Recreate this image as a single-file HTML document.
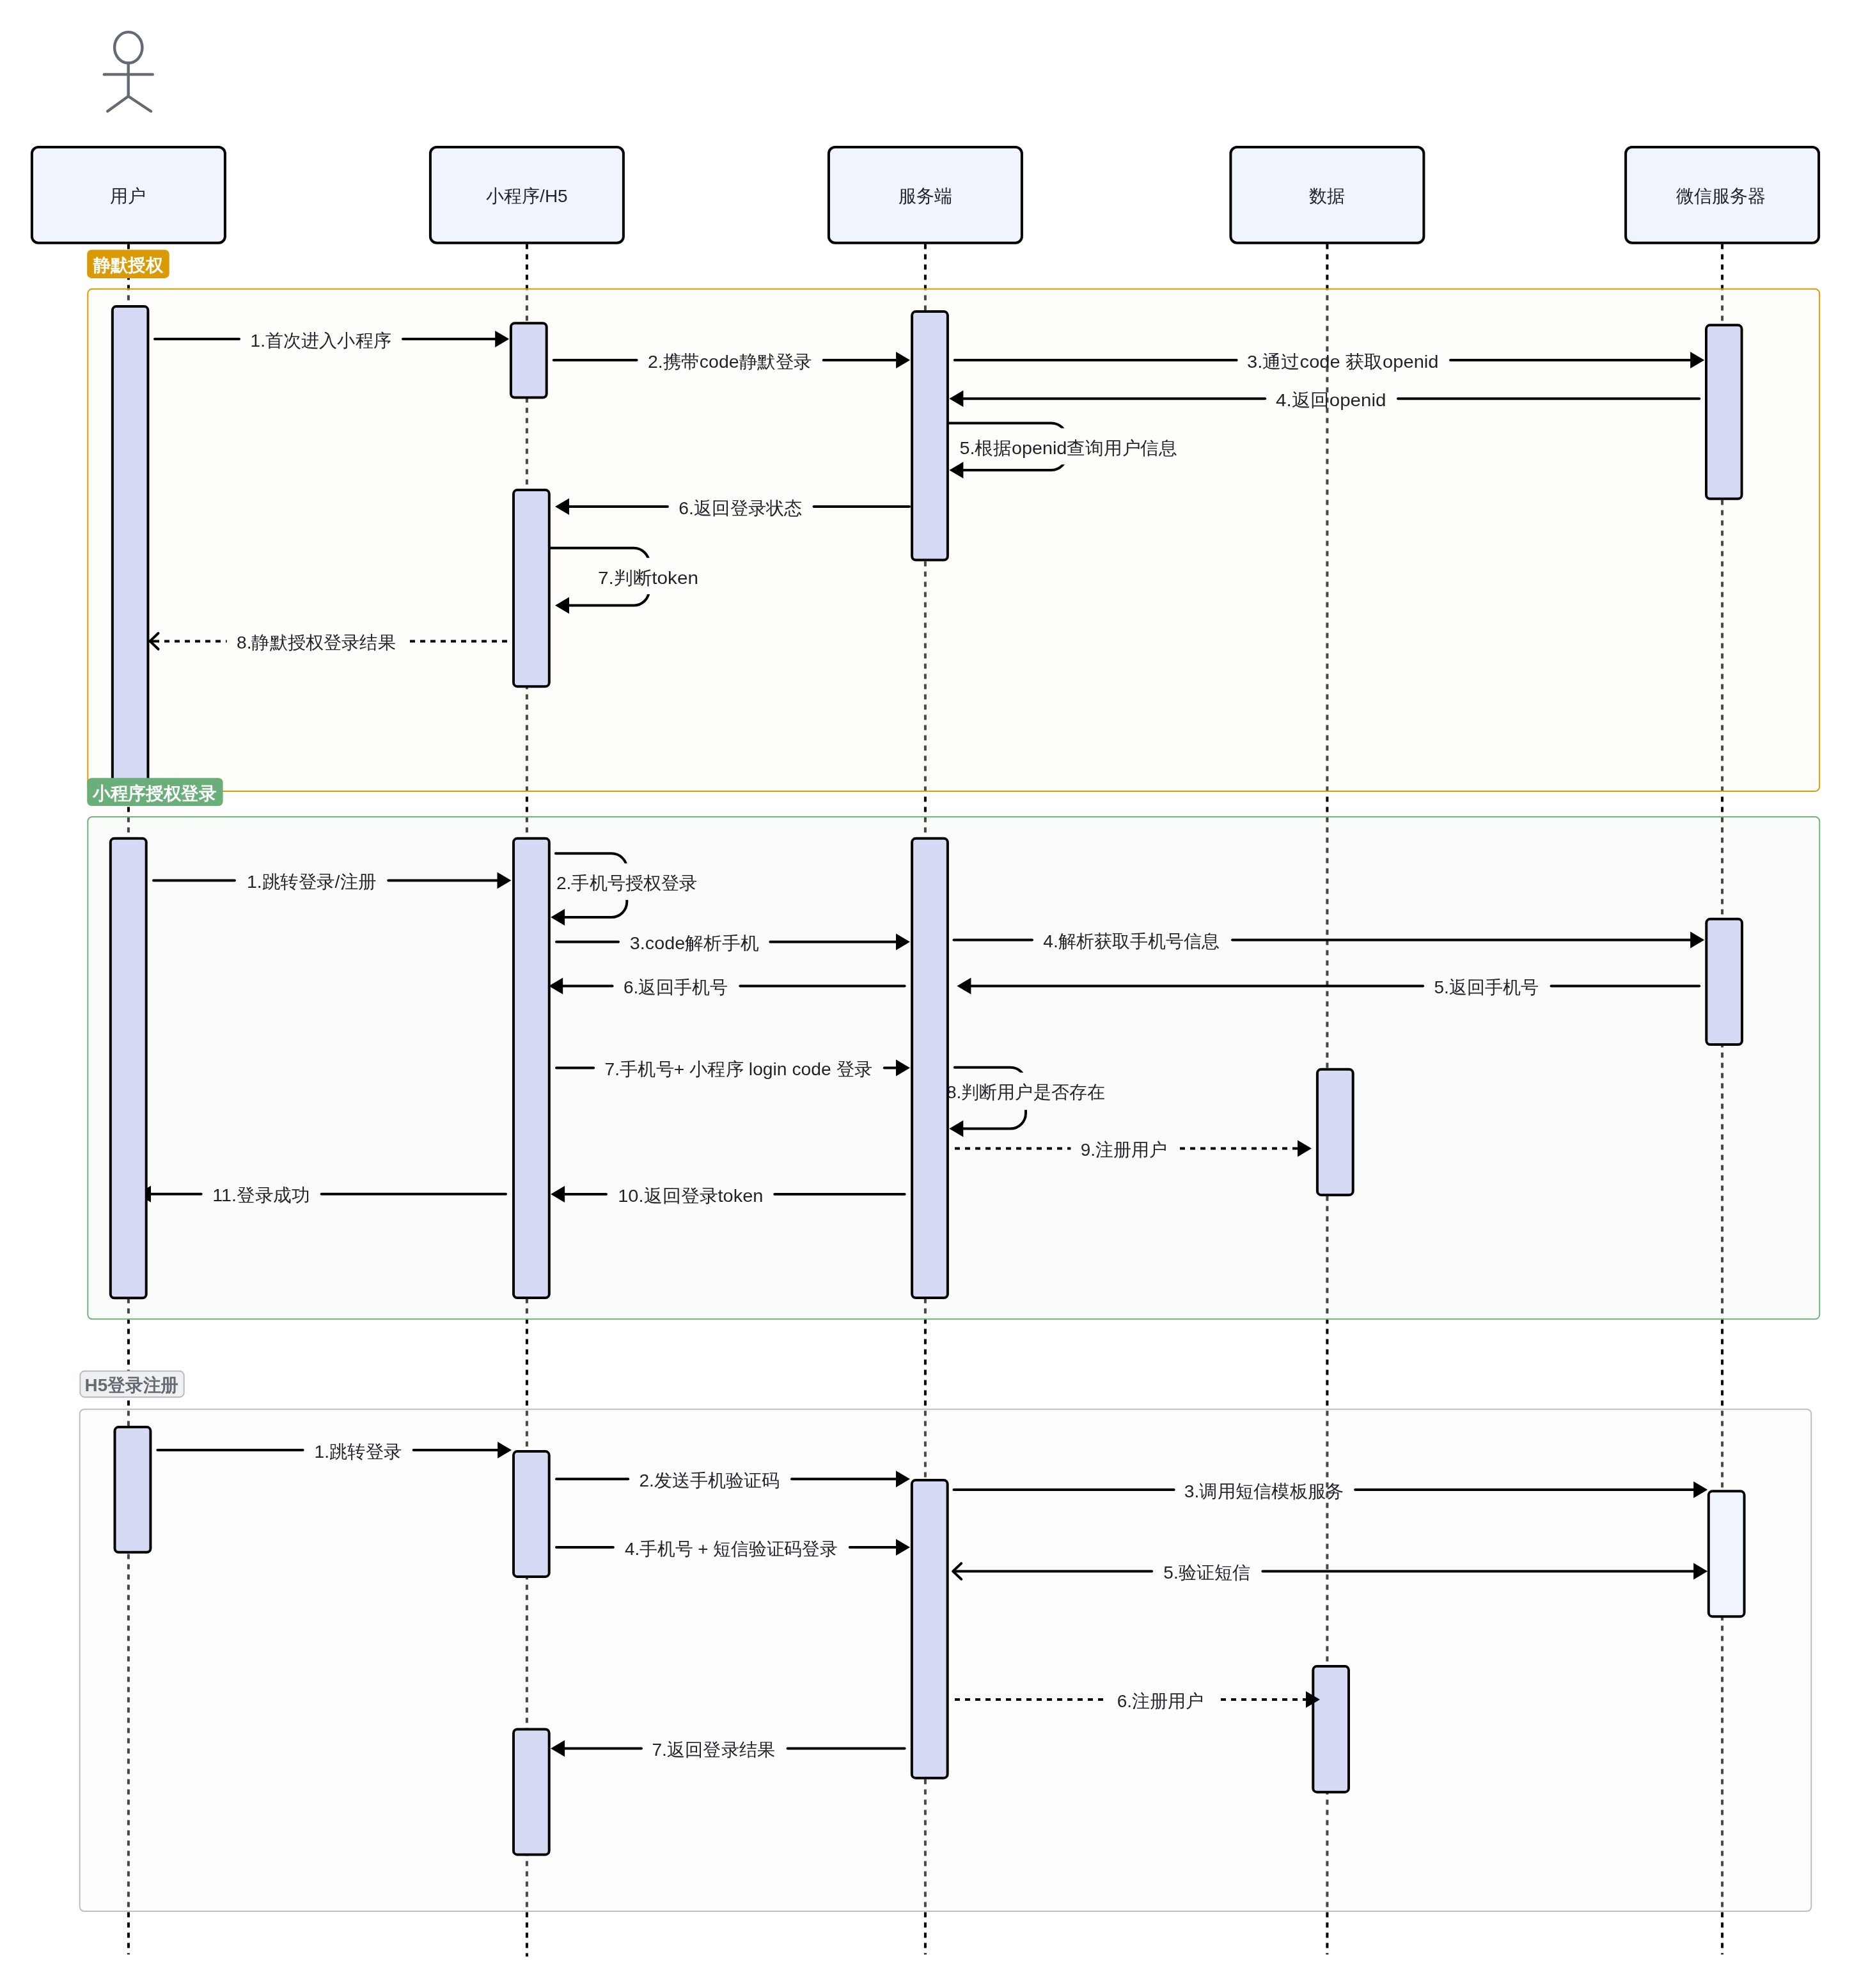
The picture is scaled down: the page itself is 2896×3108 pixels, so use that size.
<!DOCTYPE html>
<html><head><meta charset="utf-8"><title>sequence</title><style>html,body{margin:0;padding:0;background:#fff;}body{width:2896px;height:3108px;overflow:hidden;font-family:"Liberation Sans", sans-serif;}</style>
</head><body>
<svg width="2896" height="3108" viewBox="0 0 2896 3108" style="display:block;will-change:transform;font-family:'Liberation Sans', sans-serif">
<rect width="2896" height="3108" fill="#fff"/>
<line x1="200.9" y1="381.6" x2="200.9" y2="3055.4" stroke="#000" stroke-width="4" stroke-dasharray="7.8 8.2"/>
<line x1="823.9" y1="381.6" x2="823.9" y2="3058.8" stroke="#000" stroke-width="4" stroke-dasharray="7.8 8.2"/>
<line x1="1446.9" y1="381.6" x2="1446.9" y2="3055.4" stroke="#000" stroke-width="4" stroke-dasharray="7.8 8.2"/>
<line x1="2075.4" y1="381.6" x2="2075.4" y2="3055.4" stroke="#000" stroke-width="4" stroke-dasharray="7.8 8.2"/>
<line x1="2693.1" y1="381.6" x2="2693.1" y2="3055.4" stroke="#000" stroke-width="4" stroke-dasharray="7.8 8.2"/>
<g fill="none" stroke="#646a73" stroke-width="4.4" stroke-linecap="round" stroke-linejoin="round">
<ellipse cx="200.75" cy="74.3" rx="21.7" ry="24.2"/>
<line x1="200.7" y1="98.5" x2="200.7" y2="150.5"/>
<line x1="162.8" y1="116.4" x2="238.7" y2="116.4"/>
<polyline points="168.1,174 200.7,150.5 236,174"/>
</g>
<rect x="49.9" y="230.1" width="302" height="149.6" rx="10" ry="10" fill="#eff4fd" stroke="#000" stroke-width="4"/>
<text x="200.4" y="316" text-anchor="middle" font-size="28" fill="#1f2329">用户</text>
<rect x="672.9" y="230.1" width="302" height="149.6" rx="10" ry="10" fill="#eff4fd" stroke="#000" stroke-width="4"/>
<text x="823.9" y="316" text-anchor="middle" font-size="28" fill="#1f2329">小程序/H5</text>
<rect x="1295.9" y="230.1" width="302" height="149.6" rx="10" ry="10" fill="#eff4fd" stroke="#000" stroke-width="4"/>
<text x="1446.9" y="316" text-anchor="middle" font-size="28" fill="#1f2329">服务端</text>
<rect x="1924.4" y="230.1" width="302" height="149.6" rx="10" ry="10" fill="#eff4fd" stroke="#000" stroke-width="4"/>
<text x="2075.4" y="316" text-anchor="middle" font-size="28" fill="#1f2329">数据</text>
<rect x="2542.1" y="230.1" width="302" height="149.6" rx="10" ry="10" fill="#eff4fd" stroke="#000" stroke-width="4"/>
<text x="2690.6" y="316" text-anchor="middle" font-size="28" fill="#1f2329">微信服务器</text>
<rect x="137.3" y="451.8" width="2707.9" height="785.1" rx="7" ry="7" fill="rgb(255,248,236)" fill-opacity="0.29" stroke="#dc9b04" stroke-width="2"/>
<rect x="137.3" y="1277" width="2708" height="785.3" rx="7" ry="7" fill="rgb(236,244,233)" fill-opacity="0.29" stroke="#72b37f" stroke-width="2"/>
<rect x="124.7" y="2203.2" width="2707.6" height="784.8" rx="7" ry="7" fill="rgb(248,248,248)" fill-opacity="0.29" stroke="#bbbfc4" stroke-width="2"/>
<line x1="242" y1="530.1" x2="374" y2="530.1" stroke="#000" stroke-width="4" stroke-linecap="round"/>
<line x1="630" y1="530.1" x2="774.2" y2="530.1" stroke="#000" stroke-width="4" stroke-linecap="round"/>
<polygon points="796.2,530.1 774.2,517.1 774.2,543.1" fill="#000"/>
<text x="391.5" y="541.7" font-size="28" fill="#1f2329" textLength="220.3" lengthAdjust="spacingAndGlyphs">1.首次进入小程序</text>
<line x1="865.7" y1="562.9" x2="995.6" y2="562.9" stroke="#000" stroke-width="4" stroke-linecap="round"/>
<line x1="1287.7" y1="562.9" x2="1401.1" y2="562.9" stroke="#000" stroke-width="4" stroke-linecap="round"/>
<polygon points="1423.1,562.9 1401.1,549.9 1401.1,575.9" fill="#000"/>
<text x="1012.9" y="574.5" font-size="28" fill="#1f2329" textLength="257.0" lengthAdjust="spacingAndGlyphs">2.携带code静默登录</text>
<line x1="1492.8" y1="562.9" x2="1933.7" y2="562.9" stroke="#000" stroke-width="4" stroke-linecap="round"/>
<line x1="2268" y1="562.9" x2="2643.2" y2="562.9" stroke="#000" stroke-width="4" stroke-linecap="round"/>
<polygon points="2665.2,562.9 2643.2,549.9 2643.2,575.9" fill="#000"/>
<text x="1950.1" y="574.5" font-size="28" fill="#1f2329" textLength="299.4" lengthAdjust="spacingAndGlyphs">3.通过code 获取openid</text>
<line x1="2186" y1="623.2" x2="2657.2" y2="623.2" stroke="#000" stroke-width="4" stroke-linecap="round"/>
<line x1="1506.4" y1="623.2" x2="1978.2" y2="623.2" stroke="#000" stroke-width="4" stroke-linecap="round"/>
<polygon points="1484.4,623.2 1506.4,610.2 1506.4,636.2" fill="#000"/>
<text x="1995.0" y="634.8" font-size="28" fill="#1f2329" textLength="172.5" lengthAdjust="spacingAndGlyphs">4.返回openid</text>
<path d="M1484.4,661.4 H1644 A24,24 0 0 1 1668,685.4 V710.9 A24,24 0 0 1 1644,734.9 H1506.4" fill="none" stroke="#000" stroke-width="4" stroke-linecap="round" mask="url(#m0)"/>
<polygon points="1484.4,734.9 1506.4,721.9 1506.4,747.9" fill="#000"/>
<text x="1500.5" y="709.9" font-size="28" fill="#1f2329" textLength="340.4" lengthAdjust="spacingAndGlyphs">5.根据openid查询用户信息</text>
<line x1="1272.6" y1="791.9" x2="1422" y2="791.9" stroke="#000" stroke-width="4" stroke-linecap="round"/>
<line x1="890" y1="791.9" x2="1044" y2="791.9" stroke="#000" stroke-width="4" stroke-linecap="round"/>
<polygon points="868,791.9 890,778.9 890,804.9" fill="#000"/>
<text x="1061.3" y="803.5" font-size="28" fill="#1f2329" textLength="193.5" lengthAdjust="spacingAndGlyphs">6.返回登录状态</text>
<path d="M859.5,856.7 H991 A24,24 0 0 1 1015,880.7 V922.5 A24,24 0 0 1 991,946.5 H890" fill="none" stroke="#000" stroke-width="4" stroke-linecap="round" mask="url(#m1)"/>
<polygon points="868,946.5 890,933.5 890,959.5" fill="#000"/>
<text x="935.0" y="912.9" font-size="28" fill="#1f2329" textLength="157.0" lengthAdjust="spacingAndGlyphs">7.判断token</text>
<line x1="793" y1="1002.4" x2="641" y2="1002.4" stroke="#000" stroke-width="4" stroke-dasharray="8 8" stroke-dashoffset="0.00"/>
<line x1="354.6" y1="1002.4" x2="247.0" y2="1002.4" stroke="#000" stroke-width="4" stroke-dasharray="8 8" stroke-dashoffset="438.40"/>
<line x1="233.8" y1="1002.4" x2="247.0" y2="1002.4" stroke="#000" stroke-width="4" stroke-linecap="round"/>
<polyline points="247.5,990.0 234.5,1002.4 247.5,1014.8" fill="none" stroke="#000" stroke-width="4" stroke-linecap="round" stroke-linejoin="round"/>
<text x="370.0" y="1014.0" font-size="28" fill="#1f2329" textLength="248.8" lengthAdjust="spacingAndGlyphs">8.静默授权登录结果</text>
<line x1="240" y1="1376.6" x2="366.9" y2="1376.6" stroke="#000" stroke-width="4" stroke-linecap="round"/>
<line x1="607.2" y1="1376.6" x2="777.5" y2="1376.6" stroke="#000" stroke-width="4" stroke-linecap="round"/>
<polygon points="799.5,1376.6 777.5,1363.6 777.5,1389.6" fill="#000"/>
<text x="385.9" y="1388.2" font-size="28" fill="#1f2329" textLength="202.6" lengthAdjust="spacingAndGlyphs">1.跳转登录/注册</text>
<path d="M868.9,1334.3 H956.3 A24,24 0 0 1 980.3,1358.3 V1410 A24,24 0 0 1 956.3,1434 H883.1" fill="none" stroke="#000" stroke-width="4" stroke-linecap="round" mask="url(#m2)"/>
<polygon points="861.1,1434 883.1,1421 883.1,1447" fill="#000"/>
<text x="869.9" y="1389.6" font-size="28" fill="#1f2329" textLength="220.8" lengthAdjust="spacingAndGlyphs">2.手机号授权登录</text>
<line x1="870" y1="1472.5" x2="967" y2="1472.5" stroke="#000" stroke-width="4" stroke-linecap="round"/>
<line x1="1204.4" y1="1472.5" x2="1401" y2="1472.5" stroke="#000" stroke-width="4" stroke-linecap="round"/>
<polygon points="1423,1472.5 1401,1459.5 1401,1485.5" fill="#000"/>
<text x="984.8" y="1484.1" font-size="28" fill="#1f2329" textLength="201.7" lengthAdjust="spacingAndGlyphs">3.code解析手机</text>
<line x1="1491.5" y1="1469.6" x2="1614" y2="1469.6" stroke="#000" stroke-width="4" stroke-linecap="round"/>
<line x1="1927" y1="1469.6" x2="2643.2" y2="1469.6" stroke="#000" stroke-width="4" stroke-linecap="round"/>
<polygon points="2665.2,1469.6 2643.2,1456.6 2643.2,1482.6" fill="#000"/>
<text x="1631.3" y="1481.2" font-size="28" fill="#1f2329" textLength="275.7" lengthAdjust="spacingAndGlyphs">4.解析获取手机号信息</text>
<line x1="2425.6" y1="1541.4" x2="2657.2" y2="1541.4" stroke="#000" stroke-width="4" stroke-linecap="round"/>
<line x1="1518.4" y1="1541.4" x2="2225.1" y2="1541.4" stroke="#000" stroke-width="4" stroke-linecap="round"/>
<polygon points="1496.4,1541.4 1518.4,1528.4 1518.4,1554.4" fill="#000"/>
<text x="2242.4" y="1553.0" font-size="28" fill="#1f2329" textLength="163.9" lengthAdjust="spacingAndGlyphs">5.返回手机号</text>
<line x1="1157.3" y1="1541.6" x2="1414.6" y2="1541.6" stroke="#000" stroke-width="4" stroke-linecap="round"/>
<line x1="880.2" y1="1541.6" x2="957.6" y2="1541.6" stroke="#000" stroke-width="4" stroke-linecap="round"/>
<polygon points="858.2,1541.6 880.2,1528.6 880.2,1554.6" fill="#000"/>
<text x="974.9" y="1553.2" font-size="28" fill="#1f2329" textLength="163.3" lengthAdjust="spacingAndGlyphs">6.返回手机号</text>
<line x1="870" y1="1669.5" x2="928.2" y2="1669.5" stroke="#000" stroke-width="4" stroke-linecap="round"/>
<line x1="1382.8" y1="1669.5" x2="1401" y2="1669.5" stroke="#000" stroke-width="4" stroke-linecap="round"/>
<polygon points="1423,1669.5 1401,1656.5 1401,1682.5" fill="#000"/>
<text x="945.5" y="1681.1" font-size="28" fill="#1f2329" textLength="418.6" lengthAdjust="spacingAndGlyphs">7.手机号+ 小程序 login code 登录</text>
<path d="M1492.8,1668.8 H1580 A24,24 0 0 1 1604,1692.8 V1740.5 A24,24 0 0 1 1580,1764.5 H1506.3" fill="none" stroke="#000" stroke-width="4" stroke-linecap="round" mask="url(#m3)"/>
<polygon points="1484.3,1764.5 1506.3,1751.5 1506.3,1777.5" fill="#000"/>
<text x="1480.0" y="1716.9" font-size="28" fill="#1f2329" textLength="247.7" lengthAdjust="spacingAndGlyphs">8.判断用户是否存在</text>
<line x1="1493" y1="1795.6" x2="1674.4" y2="1795.6" stroke="#000" stroke-width="4" stroke-dasharray="8 8" stroke-dashoffset="0.00"/>
<line x1="1845" y1="1795.6" x2="2029" y2="1795.6" stroke="#000" stroke-width="4" stroke-dasharray="8 8" stroke-dashoffset="352.00"/>
<polygon points="2051,1795.6 2029,1782.6 2029,1808.6" fill="#000"/>
<text x="1689.7" y="1807.2" font-size="28" fill="#1f2329" textLength="135.2" lengthAdjust="spacingAndGlyphs">9.注册用户</text>
<line x1="1211.3" y1="1866.9" x2="1414.6" y2="1866.9" stroke="#000" stroke-width="4" stroke-linecap="round"/>
<line x1="883.1" y1="1866.9" x2="948" y2="1866.9" stroke="#000" stroke-width="4" stroke-linecap="round"/>
<polygon points="861.1,1866.9 883.1,1853.9 883.1,1879.9" fill="#000"/>
<text x="966.2" y="1878.5" font-size="28" fill="#1f2329" textLength="227.3" lengthAdjust="spacingAndGlyphs">10.返回登录token</text>
<line x1="502.6" y1="1866.8" x2="791" y2="1866.8" stroke="#000" stroke-width="4" stroke-linecap="round"/>
<line x1="236" y1="1866.8" x2="314.6" y2="1866.8" stroke="#000" stroke-width="4" stroke-linecap="round"/>
<polygon points="214,1866.8 236,1853.8 236,1879.8" fill="#000"/>
<text x="332.3" y="1878.4" font-size="28" fill="#1f2329" textLength="152.5" lengthAdjust="spacingAndGlyphs">11.登录成功</text>
<line x1="246.3" y1="2267.1" x2="473.6" y2="2267.1" stroke="#000" stroke-width="4" stroke-linecap="round"/>
<line x1="646.6" y1="2267.1" x2="778.1" y2="2267.1" stroke="#000" stroke-width="4" stroke-linecap="round"/>
<polygon points="800.1,2267.1 778.1,2254.1 778.1,2280.1" fill="#000"/>
<text x="491.5" y="2278.7" font-size="28" fill="#1f2329" textLength="136.7" lengthAdjust="spacingAndGlyphs">1.跳转登录</text>
<line x1="870" y1="2312.2" x2="982.2" y2="2312.2" stroke="#000" stroke-width="4" stroke-linecap="round"/>
<line x1="1238" y1="2312.2" x2="1401" y2="2312.2" stroke="#000" stroke-width="4" stroke-linecap="round"/>
<polygon points="1423,2312.2 1401,2299.2 1401,2325.2" fill="#000"/>
<text x="999.5" y="2323.8" font-size="28" fill="#1f2329" textLength="219.9" lengthAdjust="spacingAndGlyphs">2.发送手机验证码</text>
<line x1="1491.5" y1="2328.9" x2="1835.7" y2="2328.9" stroke="#000" stroke-width="4" stroke-linecap="round"/>
<line x1="2119.1" y1="2328.9" x2="2648.2" y2="2328.9" stroke="#000" stroke-width="4" stroke-linecap="round"/>
<polygon points="2670.2,2328.9 2648.2,2315.9 2648.2,2341.9" fill="#000"/>
<text x="1851.7" y="2340.5" font-size="28" fill="#1f2329" textLength="249.7" lengthAdjust="spacingAndGlyphs">3.调用短信模板服务</text>
<line x1="870" y1="2419" x2="958.9" y2="2419" stroke="#000" stroke-width="4" stroke-linecap="round"/>
<line x1="1328.8" y1="2419" x2="1401" y2="2419" stroke="#000" stroke-width="4" stroke-linecap="round"/>
<polygon points="1423,2419 1401,2406 1401,2432" fill="#000"/>
<text x="977.0" y="2430.6" font-size="28" fill="#1f2329" textLength="332.7" lengthAdjust="spacingAndGlyphs">4.手机号 + 短信验证码登录</text>
<polyline points="1503.2,2444.1 1490.2,2456.5 1503.2,2468.9" fill="none" stroke="#000" stroke-width="4" stroke-linecap="round" stroke-linejoin="round"/>
<line x1="1491.5" y1="2456.5" x2="1801.1" y2="2456.5" stroke="#000" stroke-width="4" stroke-linecap="round"/>
<line x1="1974.4" y1="2456.5" x2="2648.2" y2="2456.5" stroke="#000" stroke-width="4" stroke-linecap="round"/>
<polygon points="2670.2,2456.5 2648.2,2443.5 2648.2,2469.5" fill="#000"/>
<text x="1819.3" y="2468.1" font-size="28" fill="#1f2329" textLength="136.1" lengthAdjust="spacingAndGlyphs">5.验证短信</text>
<line x1="1231.6" y1="2733.4" x2="1414.6" y2="2733.4" stroke="#000" stroke-width="4" stroke-linecap="round"/>
<line x1="883.1" y1="2733.4" x2="1003" y2="2733.4" stroke="#000" stroke-width="4" stroke-linecap="round"/>
<polygon points="861.1,2733.4 883.1,2720.4 883.1,2746.4" fill="#000"/>
<text x="1019.4" y="2745.0" font-size="28" fill="#1f2329" textLength="193.1" lengthAdjust="spacingAndGlyphs">7.返回登录结果</text>
<rect x="175.85" y="479.1" width="55.6" height="760.9" rx="6" ry="6" fill="#d6daf4" stroke="#000" stroke-width="4"/>
<rect x="798.9" y="505.3" width="55.8" height="116.2" rx="6" ry="6" fill="#d6daf4" stroke="#000" stroke-width="4"/>
<rect x="803.0" y="766.1" width="55.8" height="307.1" rx="6" ry="6" fill="#d6daf4" stroke="#000" stroke-width="4"/>
<rect x="1426.1" y="487.1" width="55.8" height="388.5" rx="6" ry="6" fill="#d6daf4" stroke="#000" stroke-width="4"/>
<rect x="2668.0" y="508.3" width="55.6" height="271.5" rx="6" ry="6" fill="#d6daf4" stroke="#000" stroke-width="4"/>
<rect x="172.8" y="1310.85" width="55.9" height="718.5" rx="6" ry="6" fill="#d6daf4" stroke="#000" stroke-width="4"/>
<rect x="803.0" y="1310.85" width="55.8" height="718.2" rx="6" ry="6" fill="#d6daf4" stroke="#000" stroke-width="4"/>
<rect x="1426.1" y="1310.85" width="55.8" height="718.2" rx="6" ry="6" fill="#d6daf4" stroke="#000" stroke-width="4"/>
<rect x="2668.3" y="1436.8" width="55.7" height="196.3" rx="6" ry="6" fill="#d6daf4" stroke="#000" stroke-width="4"/>
<rect x="2059.9" y="1671.8" width="55.8" height="196.4" rx="6" ry="6" fill="#d6daf4" stroke="#000" stroke-width="4"/>
<rect x="179.5" y="2231.1" width="55.9" height="195.7" rx="6" ry="6" fill="#d6daf4" stroke="#000" stroke-width="4"/>
<rect x="803.0" y="2269.1" width="55.7" height="195.8" rx="6" ry="6" fill="#d6daf4" stroke="#000" stroke-width="4"/>
<rect x="803.0" y="2703.4" width="55.7" height="196.0" rx="6" ry="6" fill="#d6daf4" stroke="#000" stroke-width="4"/>
<rect x="1425.85" y="2314.1" width="55.8" height="465.6" rx="6" ry="6" fill="#d6daf4" stroke="#000" stroke-width="4"/>
<rect x="2053.3" y="2605.1" width="55.7" height="196.6" rx="6" ry="6" fill="#d6daf4" stroke="#000" stroke-width="4"/>
<rect x="2671.8" y="2331.3" width="55.8" height="195.9" rx="6" ry="6" fill="#eff4fd" stroke="#000" stroke-width="4"/>
<line x1="1493" y1="2657" x2="1732.7" y2="2657" stroke="#000" stroke-width="4" stroke-dasharray="8 8" stroke-dashoffset="0.00"/>
<line x1="1905.5" y1="2657" x2="2042" y2="2657" stroke="#000" stroke-width="4" stroke-dasharray="8 8" stroke-dashoffset="412.50"/>
<polygon points="2064,2657 2042,2644 2042,2670" fill="#000"/>
<text x="1746.7" y="2668.6" font-size="28" fill="#1f2329" textLength="135.7" lengthAdjust="spacingAndGlyphs">6.注册用户</text>
<rect x="136.2" y="390.5" width="128.5" height="44.4" rx="7" ry="7" fill="#d99a05"/>
<text x="145.6" y="424" font-size="28" font-weight="bold" fill="#fff" textLength="109.6" lengthAdjust="spacingAndGlyphs">静默授权</text>
<rect x="136.2" y="1216.2" width="212.4" height="43.8" rx="7" ry="7" fill="#6aae7a"/>
<text x="145.2" y="1249.8" font-size="28" font-weight="bold" fill="#fff" textLength="193.4" lengthAdjust="spacingAndGlyphs">小程序授权登录</text>
<rect x="125.3" y="2143.6" width="162.4" height="40.6" rx="7" ry="7" fill="#eff0f1" stroke="#b7bbc1" stroke-width="2"/>
<text x="132.6" y="2175" font-size="28" font-weight="bold" fill="#646a73" textLength="146.6" lengthAdjust="spacingAndGlyphs">H5登录注册</text>
<defs><mask id="m0" maskUnits="userSpaceOnUse" x="0" y="0" width="2896" height="3108"><rect x="0" y="0" width="2896" height="3108" fill="#fff"/><rect x="1608" y="669.5" width="120" height="56.700000000000045" fill="#000"/></mask><mask id="m1" maskUnits="userSpaceOnUse" x="0" y="0" width="2896" height="3108"><rect x="0" y="0" width="2896" height="3108" fill="#fff"/><rect x="955" y="872.2" width="120" height="56.799999999999955" fill="#000"/></mask><mask id="m2" maskUnits="userSpaceOnUse" x="0" y="0" width="2896" height="3108"><rect x="0" y="0" width="2896" height="3108" fill="#fff"/><rect x="920.3" y="1349.8" width="120" height="57.100000000000136" fill="#000"/></mask><mask id="m3" maskUnits="userSpaceOnUse" x="0" y="0" width="2896" height="3108"><rect x="0" y="0" width="2896" height="3108" fill="#fff"/><rect x="1544" y="1676.8" width="120" height="58.40000000000009" fill="#000"/></mask></defs>
</svg>
</body></html>
